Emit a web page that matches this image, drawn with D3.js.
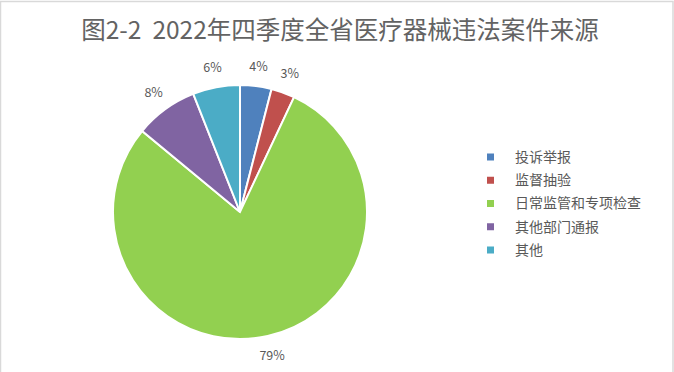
<!DOCTYPE html>
<html>
<head>
    <meta charset="utf-8">
    <title>案件来源</title>
    <script src="https://d3js.org/d3.v7.min.js"></script>
    <style>
        body { margin: 0; background: #fff; }
        svg { display: block; font-family: "Noto Sans CJK SC", "Noto Sans", sans-serif; }
        .title { white-space: pre; }
        .pct { fill: #595959; font-size: 12.5px; }
        .legend text { fill: #595959; font-size: 14px; }
    </style>
</head>
<body>
    <div id="chart"></div>
    <script>
        // data
        const categories = ["投诉举报", "监督抽验", "日常监管和专项检查", "其他部门通报", "其他"];
        const values = [4, 3, 79, 8, 6];
        const colors = ["#4F81BD", "#C0504D", "#92D050", "#8064A2", "#4BACC6"];
        const title = "图2-2  2022年四季度全省医疗器械违法案件来源";

        const width = 674, height = 372;
        const cx = 240, cy = 212, radius = 127;

        const svg = d3.select("#chart")
            .append("svg")
            .attr("width", width)
            .attr("height", height);

        // light frame round the chart
        svg.append("rect")
            .attr("x", 0.5).attr("y", 1.5)
            .attr("width", width - 1.5).attr("height", height + 5)
            .attr("fill", "none")
            .attr("stroke", "#d9d9d9")
            .attr("stroke-width", 1.5);

        svg.append("text")
            .attr("class", "title")
            .attr("x", 340)
            .attr("y", 39)
            .attr("text-anchor", "middle")
            .attr("fill", "#636363")
            .attr("font-size", "24.5px")
            .text(title);

        const pie = d3.pie().sort(null).value(d => d);
        const arcs = pie(values);
        const arc = d3.arc().innerRadius(0).outerRadius(radius);
        const labelArc = d3.arc().innerRadius(radius + 20).outerRadius(radius + 20);

        const g = svg.append("g").attr("transform", `translate(${cx},${cy})`);

        g.selectAll("path")
            .data(arcs)
            .join("path")
            .attr("d", arc)
            .attr("fill", (d, i) => colors[i])
            .attr("stroke", "#fff")
            .attr("stroke-width", 2);

        g.selectAll(".pct")
            .data(arcs)
            .join("text")
            .attr("class", "pct")
            .attr("transform", d => `translate(${labelArc.centroid(d)})`)
            .attr("text-anchor", "middle")
            .attr("dy", "0.35em")
            .text(d => d.data + "%");

        // legend
        const legendY = d3.scalePoint()
            .domain(categories)
            .range([157, 250]);

        const legend = svg.append("g").attr("class", "legend");
        const rows = legend.selectAll("g")
            .data(categories)
            .join("g")
            .attr("transform", d => `translate(487,${legendY(d)})`);

        rows.append("rect")
            .attr("x", 0).attr("y", -3.5)
            .attr("width", 7).attr("height", 7)
            .attr("fill", (d, i) => colors[i]);

        rows.append("text")
            .attr("x", 28)
            .attr("dy", "0.35em")
            .text(d => d);
    </script>
</body>
</html>
